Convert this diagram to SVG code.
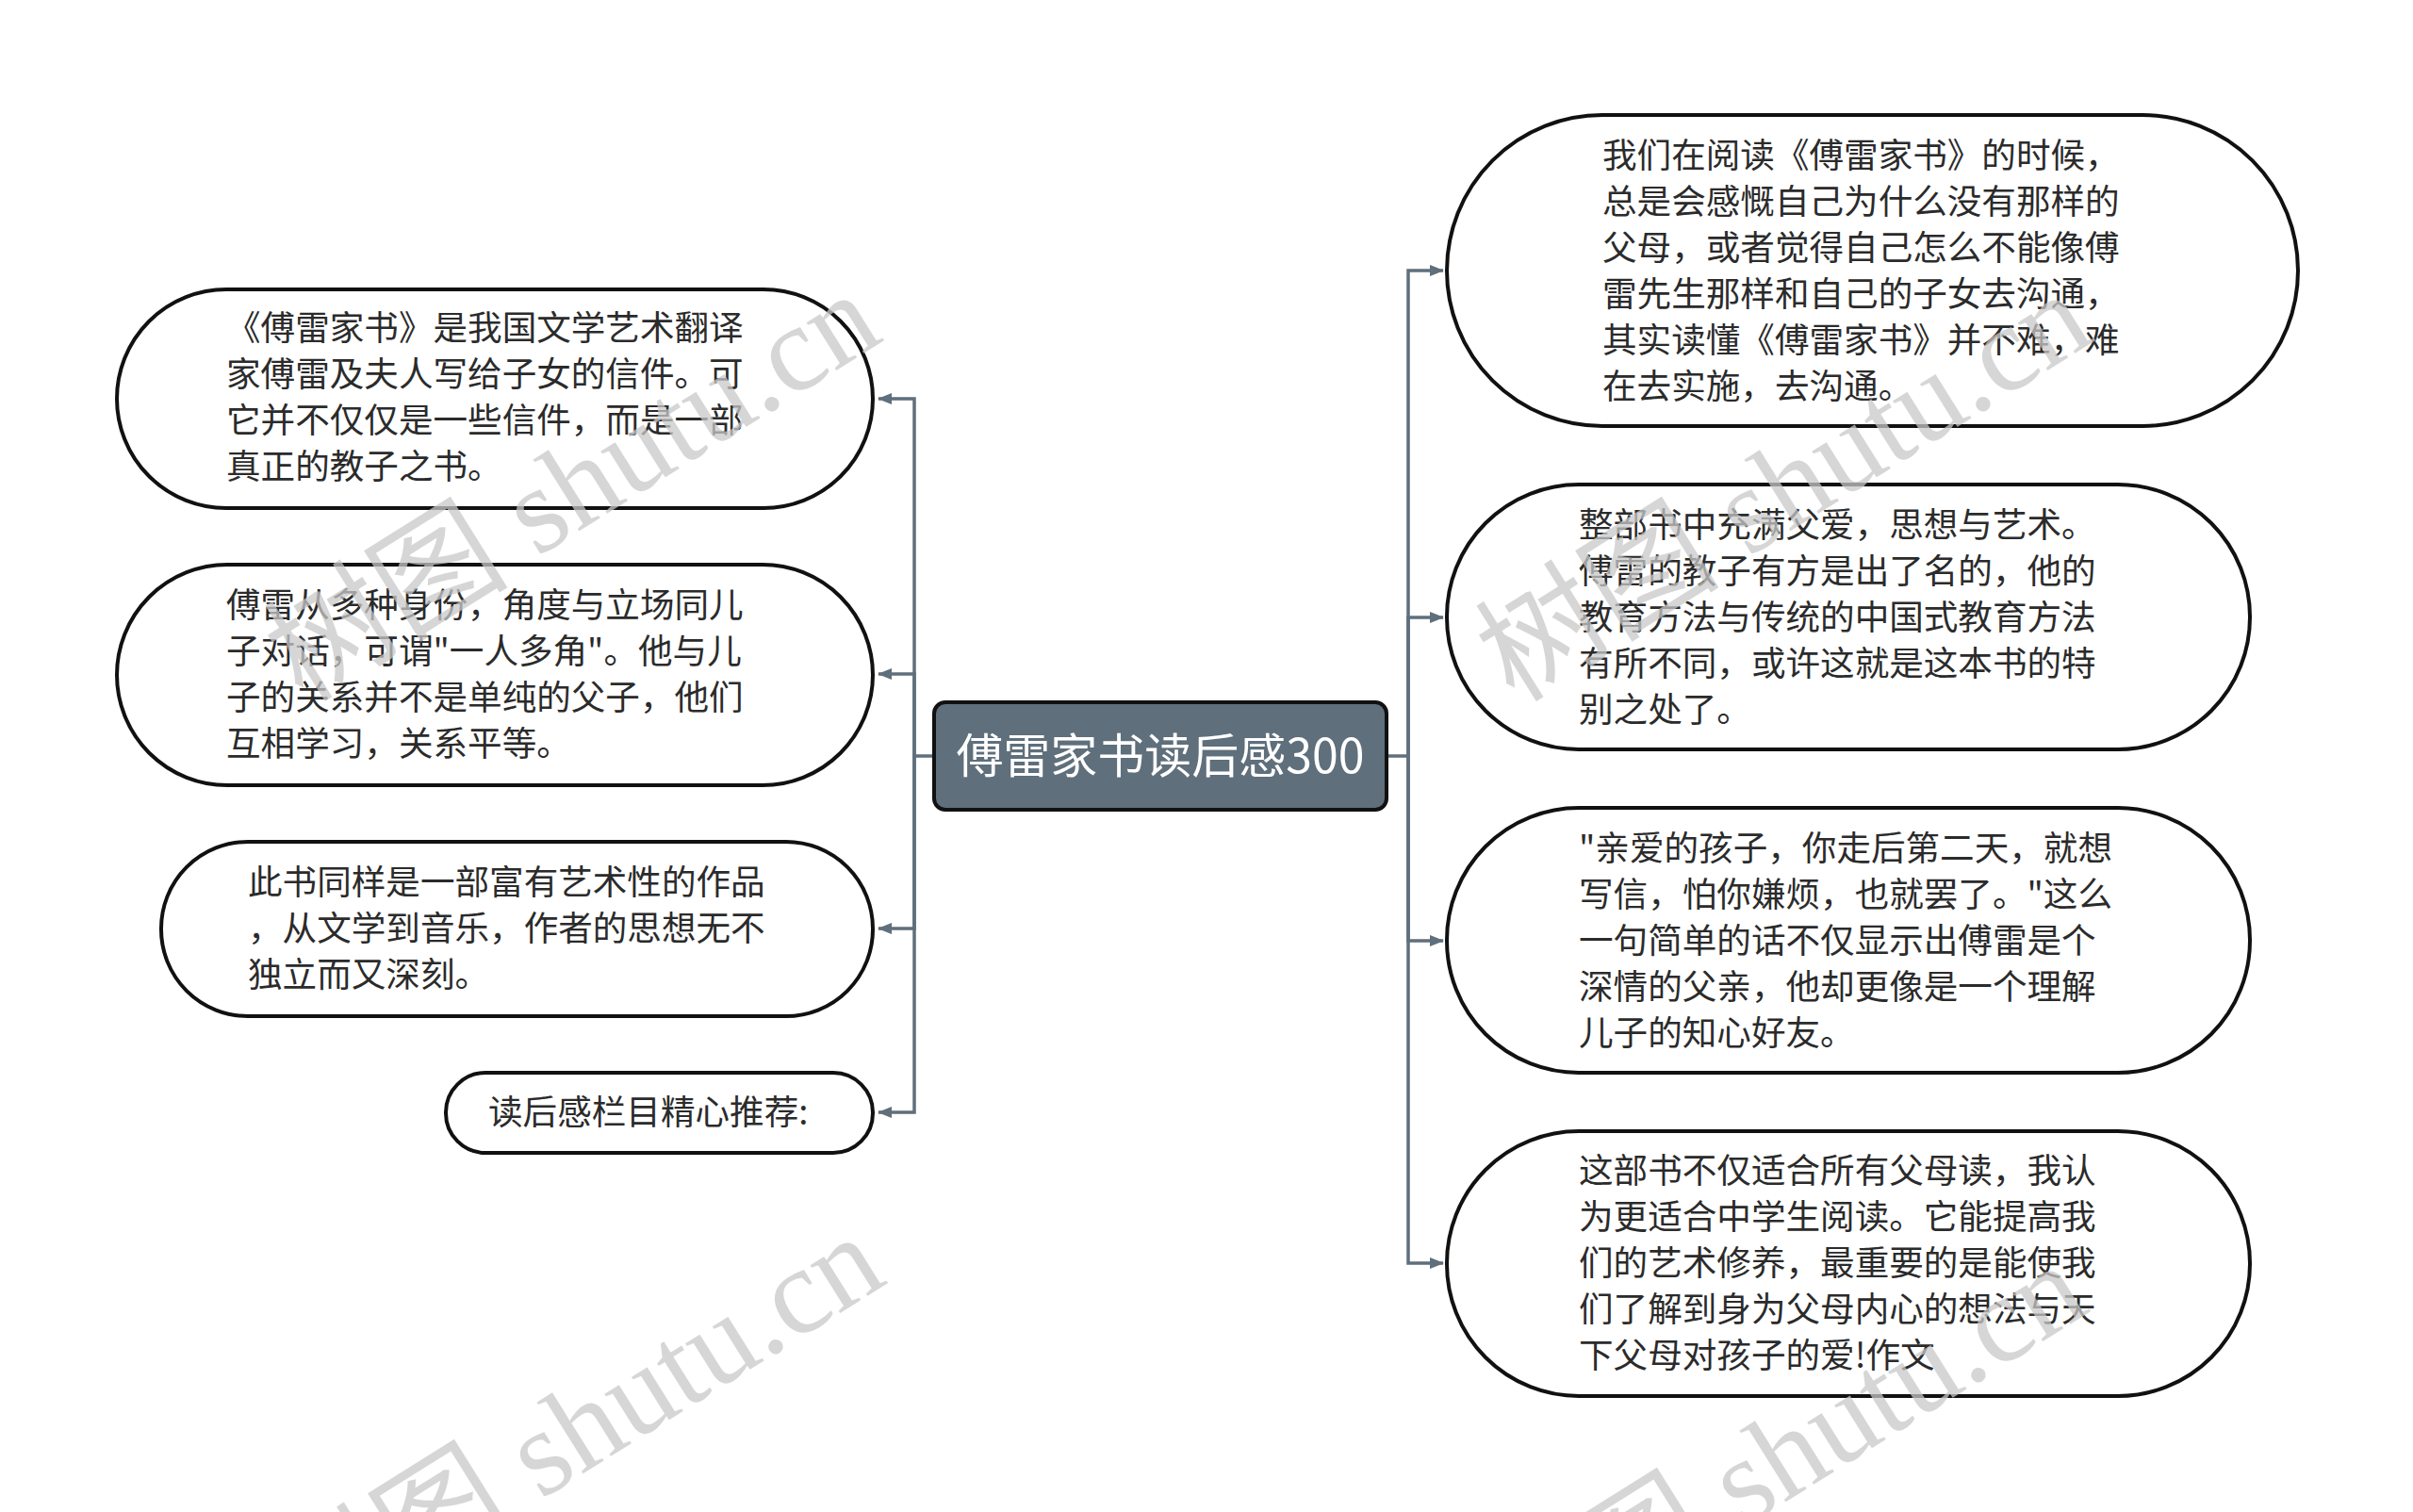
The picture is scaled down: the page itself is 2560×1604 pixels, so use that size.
<svg xmlns="http://www.w3.org/2000/svg" width="2560" height="1604" viewBox="0 0 2560 1604">
<defs>
<style>
.node{fill:#ffffff;stroke:#111111;stroke-width:4}
.txt{font-family:"Noto Sans CJK SC","Liberation Sans",sans-serif;font-size:36.6px;fill:#2b2b2b}
.conn{fill:none;stroke:#5f6f7b;stroke-width:3.5}
.wm{font-family:"Liberation Serif","Noto Sans CJK SC",serif;font-size:130px;fill:#c8c8c8;fill-opacity:0.75}
</style>
<marker id="arr" markerWidth="16" markerHeight="16" refX="14" refY="8" orient="auto" markerUnits="userSpaceOnUse">
<path d="M0,2 L15,8 L0,14 Z" fill="#5f6f7b"/>
</marker>
</defs>
<rect width="2560" height="1604" fill="#ffffff"/>
<g id="connectors">
<path class="conn" d="M991,802 H970 V423 H932" marker-end="url(#arr)"/>
<path class="conn" d="M970,802 V715 H932" marker-end="url(#arr)"/>
<path class="conn" d="M970,802 V985 H932" marker-end="url(#arr)"/>
<path class="conn" d="M970,802 V1180 H932" marker-end="url(#arr)"/>
<path class="conn" d="M1471,802 H1494 V287 H1531" marker-end="url(#arr)"/>
<path class="conn" d="M1494,802 V655 H1531" marker-end="url(#arr)"/>
<path class="conn" d="M1494,802 V998 H1531" marker-end="url(#arr)"/>
<path class="conn" d="M1494,802 V1340 H1531" marker-end="url(#arr)"/>
</g>
<g id="center">
<rect x="991" y="745" width="480" height="114" rx="12" fill="#5f6f7b" stroke="#111111" stroke-width="4"/>
<text x="1231" y="820" text-anchor="middle" font-family="Noto Sans CJK SC, Liberation Sans, sans-serif" font-size="50" fill="#ffffff">傅雷家书读后感300</text>
</g>
<g id="L1">
<rect class="node" x="124" y="307" width="802" height="232" rx="116"/>
<text class="txt" x="240" y="361">《傅雷家书》是我国文学艺术翻译</text>
<text class="txt" x="240" y="410">家傅雷及夫人写给子女的信件。可</text>
<text class="txt" x="240" y="459">它并不仅仅是一些信件，而是一部</text>
<text class="txt" x="240" y="508">真正的教子之书。</text>
</g>
<g id="L2">
<rect class="node" x="124" y="599" width="802" height="234" rx="117"/>
<text class="txt" x="240" y="655">傅雷从多种身份，角度与立场同儿</text>
<text class="txt" x="240" y="704">子对话，可谓"一人多角"。他与儿</text>
<text class="txt" x="240" y="753">子的关系并不是单纯的父子，他们</text>
<text class="txt" x="240" y="802">互相学习，关系平等。</text>
</g>
<g id="L3">
<rect class="node" x="171" y="893" width="755" height="185" rx="92"/>
<text class="txt" x="263" y="949">此书同样是一部富有艺术性的作品</text>
<text class="txt" x="263" y="998">，从文学到音乐，作者的思想无不</text>
<text class="txt" x="263" y="1047">独立而又深刻。</text>
</g>
<g id="L4">
<rect class="node" x="473" y="1138" width="453" height="85" rx="42"/>
<text class="txt" x="518" y="1193">读后感栏目精心推荐:</text>
</g>
<g id="R1">
<rect class="node" x="1535" y="122" width="903" height="330" rx="165"/>
<text class="txt" x="1700" y="178">我们在阅读《傅雷家书》的时候，</text>
<text class="txt" x="1700" y="227">总是会感慨自己为什么没有那样的</text>
<text class="txt" x="1700" y="276">父母，或者觉得自己怎么不能像傅</text>
<text class="txt" x="1700" y="325">雷先生那样和自己的子女去沟通，</text>
<text class="txt" x="1700" y="374">其实读懂《傅雷家书》并不难，难</text>
<text class="txt" x="1700" y="423">在去实施，去沟通。</text>
</g>
<g id="R2">
<rect class="node" x="1535" y="514" width="852" height="281" rx="140"/>
<text class="txt" x="1675" y="570">整部书中充满父爱，思想与艺术。</text>
<text class="txt" x="1675" y="619">傅雷的教子有方是出了名的，他的</text>
<text class="txt" x="1675" y="668">教育方法与传统的中国式教育方法</text>
<text class="txt" x="1675" y="717">有所不同，或许这就是这本书的特</text>
<text class="txt" x="1675" y="766">别之处了。</text>
</g>
<g id="R3">
<rect class="node" x="1535" y="857" width="852" height="281" rx="140"/>
<text class="txt" x="1675" y="913">"亲爱的孩子，你走后第二天，就想</text>
<text class="txt" x="1675" y="962">写信，怕你嫌烦，也就罢了。"这么</text>
<text class="txt" x="1675" y="1011">一句简单的话不仅显示出傅雷是个</text>
<text class="txt" x="1675" y="1060">深情的父亲，他却更像是一个理解</text>
<text class="txt" x="1675" y="1109">儿子的知心好友。</text>
</g>
<g id="R4">
<rect class="node" x="1535" y="1200" width="852" height="281" rx="140"/>
<text class="txt" x="1675" y="1255">这部书不仅适合所有父母读，我认</text>
<text class="txt" x="1675" y="1304">为更适合中学生阅读。它能提高我</text>
<text class="txt" x="1675" y="1353">们的艺术修养，最重要的是能使我</text>
<text class="txt" x="1675" y="1402">们了解到身为父母内心的想法与天</text>
<text class="txt" x="1675" y="1451">下父母对孩子的爱!作文</text>
</g>
<g id="watermarks">
<text class="wm" x="940" y="360" text-anchor="end" transform="rotate(-32 940 360)">树图 shutu.cn</text>
<text class="wm" x="2225" y="360" text-anchor="end" transform="rotate(-32 2225 360)">树图 shutu.cn</text>
<text class="wm" x="944" y="1360" text-anchor="end" transform="rotate(-32 944 1360)">树图 shutu.cn</text>
<text class="wm" x="2220" y="1390" text-anchor="end" transform="rotate(-32 2220 1390)">树图 shutu.cn</text>
</g>
</svg>
